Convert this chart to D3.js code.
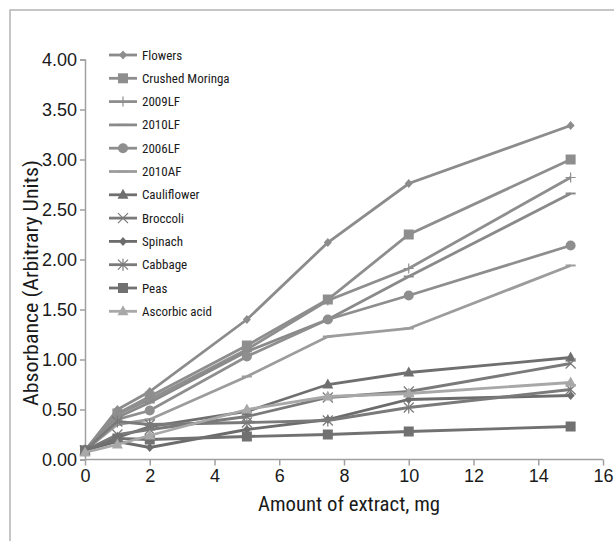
<!DOCTYPE html>
<html><head><meta charset="utf-8">
<script src="https://cdn.jsdelivr.net/npm/d3@7"></script>
<style>
body{margin:0;background:#fff;}
svg{display:block;font-family:"Liberation Sans Narrow","Arial Narrow","Roboto Condensed",Roboto,sans-serif;}
</style></head><body>
<svg id="c" width="614" height="541"></svg>
<script>
const xs = [0, 1, 2, 5, 7.5, 10, 15];
const seriesNames = ["Flowers","Crushed Moringa","2009LF","2010LF","2006LF","2010AF","Cauliflower","Broccoli","Spinach","Cabbage","Peas","Ascorbic acid"];
const flowers      = [0.09, 0.50, 0.68, 1.40, 2.17, 2.76, 3.34];
const moringa      = [0.09, 0.46, 0.63, 1.14, 1.60, 2.25, 3.00];
const lf2009       = [0.09, 0.45, 0.60, 1.10, 1.59, 1.91, 2.82];
const lf2010       = [0.09, 0.42, 0.57, 1.08, 1.40, 1.83, 2.66];
const lf2006       = [0.09, 0.40, 0.49, 1.03, 1.40, 1.64, 2.14];
const af2010       = [0.09, 0.35, 0.40, 0.83, 1.23, 1.31, 1.94];
const cauliflower  = [0.09, 0.22, 0.33, 0.48, 0.75, 0.87, 1.02];
const broccoli     = [0.09, 0.25, 0.30, 0.43, 0.62, 0.68, 0.96];
const spinach      = [0.09, 0.18, 0.12, 0.30, 0.40, 0.60, 0.64];
const cabbage      = [0.09, 0.38, 0.35, 0.37, 0.39, 0.52, 0.70];
const peas         = [0.09, 0.21, 0.20, 0.23, 0.25, 0.28, 0.33];
const ascorbic     = [0.07, 0.15, 0.24, 0.50, 0.63, 0.66, 0.77];
const yTicks = [0, 0.5, 1, 1.5, 2, 2.5, 3, 3.5, 4];
const xTicks = [0, 2, 4, 6, 8, 10, 12, 14, 16];

const values = [flowers, moringa, lf2009, lf2010, lf2006, af2010, cauliflower, broccoli, spinach, cabbage, peas, ascorbic];
const markers = ["diamond","square","plus","dash","circle","dash","triangle","x","diamond","asterisk","square","triangle"];
const colors = ["#8c8c8c","#8e8e8e","#8e8e8e","#8a8a8a","#8e8e8e","#9c9c9c","#6f6f6f","#7a7a7a","#6c6c6c","#7a7a7a","#717171","#a8a8a8"];

const svg = d3.select("#c");
svg.append("path").attr("d","M10,541 V10 H614").attr("fill","none").attr("stroke","#b4b4b4").attr("stroke-width",1.5);

const x = d3.scaleLinear().domain([0,16]).range([85,603]);
const y = d3.scaleLinear().domain([0,4]).range([459.5,59.5]);

const xAxis = svg.append("g").attr("transform","translate(0,459.5)")
  .call(d3.axisBottom(x).tickValues(xTicks).tickSize(6).tickPadding(3).tickFormat(d3.format("d")));
const yAxis = svg.append("g").attr("transform","translate(85,0)")
  .call(d3.axisLeft(y).tickValues(yTicks).tickSize(5).tickPadding(3).tickFormat(d3.format(".2f")));
[xAxis,yAxis].forEach(a=>{
  a.selectAll("path,line").attr("stroke","#a0a0a0").attr("stroke-width",1.5);
  a.selectAll("text").attr("fill","#1a1a1a").style("font-size","18px").style("font-family","inherit");
});
xAxis.select(".domain").attr("d","M85,0H603");
xAxis.selectAll("text").attr("dy","0.75em");

svg.append("text").attr("x",349).attr("y",511).attr("text-anchor","middle")
  .attr("textLength",182).attr("lengthAdjust","spacingAndGlyphs")
  .style("font-size","20px").attr("fill","#1a1a1a").text("Amount of extract, mg");
svg.append("text").attr("transform","translate(38,283) rotate(-90)").attr("text-anchor","middle")
  .attr("textLength",246).attr("lengthAdjust","spacingAndGlyphs")
  .style("font-size","20px").attr("fill","#1a1a1a").text("Absorbance (Arbitrary Units)");

function drawMarker(g, type, cx, cy, col){
  if(type==="diamond"){
    g.append("path").attr("d",`M${cx},${cy-4.5}L${cx+4},${cy}L${cx},${cy+4.5}L${cx-4},${cy}Z`).attr("fill",col);
  } else if(type==="square"){
    g.append("rect").attr("x",cx-5).attr("y",cy-5).attr("width",10).attr("height",10).attr("fill",col);
  } else if(type==="circle"){
    g.append("circle").attr("cx",cx).attr("cy",cy).attr("r",5).attr("fill",col);
  } else if(type==="triangle"){
    g.append("path").attr("d",`M${cx},${cy-6}L${cx+5.5},${cy+4}L${cx-5.5},${cy+4}Z`).attr("fill",col);
  } else if(type==="plus"){
    g.append("path").attr("d",`M${cx-5},${cy}H${cx+5}M${cx},${cy-5}V${cy+5}`).attr("stroke",col).attr("stroke-width",1.2);
  } else if(type==="dash"){
    g.append("path").attr("d",`M${cx-5},${cy}H${cx+5}`).attr("stroke",col).attr("stroke-width",2);
  } else if(type==="x"){
    g.append("path").attr("d",`M${cx-5},${cy-5}L${cx+5},${cy+5}M${cx-5},${cy+5}L${cx+5},${cy-5}`).attr("stroke",col).attr("stroke-width",1.2);
  } else if(type==="asterisk"){
    g.append("path").attr("d",`M${cx-5},${cy-5}L${cx+5},${cy+5}M${cx-5},${cy+5}L${cx+5},${cy-5}M${cx},${cy-6}V${cy+6}`).attr("stroke",col).attr("stroke-width",1.2);
  }
}

const line = d3.line().x(d=>x(d[0])).y(d=>y(d[1]));
const plot = svg.append("g");
values.forEach((vals,i)=>{
  const pts = xs.map((xv,j)=>[xv, vals[j]]);
  const g = plot.append("g");
  g.append("path").datum(pts).attr("d",line).attr("fill","none").attr("stroke",colors[i]).attr("stroke-width",2.8);
  pts.forEach(p=>drawMarker(g, markers[i], x(p[0]), y(p[1]), colors[i]));
});

const lg = svg.append("g");
seriesNames.forEach((n,i)=>{
  const cy = 55 + i*23.3;
  const g = lg.append("g");
  g.append("line").attr("x1",109).attr("x2",137).attr("y1",cy).attr("y2",cy).attr("stroke",colors[i]).attr("stroke-width",2.8);
  drawMarker(g, markers[i], 123, cy, colors[i]);
  g.append("text").attr("x",142).attr("y",cy).attr("dy","0.35em").style("font-size","13px").attr("fill","#1a1a1a").text(n);
});
</script></body></html>
